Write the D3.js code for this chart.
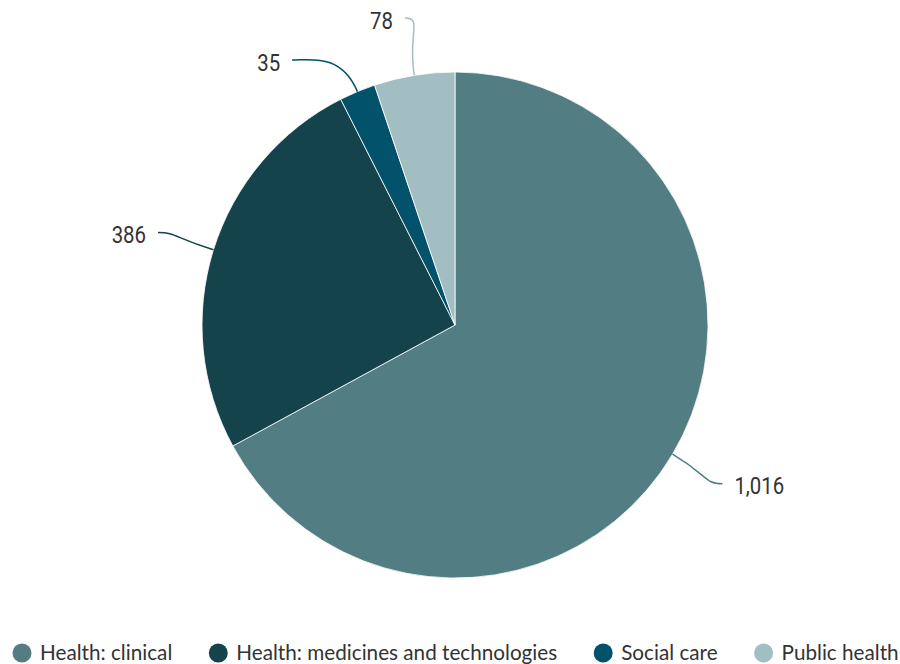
<!DOCTYPE html>
<html>
<head>
<meta charset="utf-8">
<script src="https://cdn.jsdelivr.net/npm/d3@7"></script>
<style>
  html, body { margin: 0; padding: 0; background: #ffffff; }
  .value-label { font-family: Roboto, "Liberation Sans", sans-serif; font-size: 24px; font-weight: 400; fill: #333333; }
  .legend-label { font-family: Lato, "Open Sans", sans-serif; font-size: 20.7px; fill: #333333; }
</style>
</head>
<body>
<svg id="chart" width="900" height="664"></svg>
<script>
// Funding by area
const categories = ["Health: clinical", "Health: medicines and technologies", "Social care", "Public health"];
const values = [1016, 386, 35, 78];
const colors = ["#527d82", "#15434b", "#02526b", "#a3bec3"];

const width = 900, height = 664;
const cx = 455, cy = 325, radius = 253;
const labelRadius = radius + 58;

const svg = d3.select("#chart");
const g = svg.append("g").attr("transform", `translate(${cx},${cy})`);

const pie = d3.pie().sort(null).value(d => d.value);
const arcs = pie(categories.map((c, i) => ({ name: c, value: values[i], color: colors[i] })));
const arc = d3.arc().innerRadius(0).outerRadius(radius);

g.selectAll("path.slice")
  .data(arcs)
  .join("path")
  .attr("class", "slice")
  .attr("d", arc)
  .attr("fill", d => d.data.color)
  .attr("stroke", "#ffffff")
  .attr("stroke-width", 0.8);

// polar helper: angle measured clockwise from 12 o'clock
const polar = (a, r) => [r * Math.sin(a), -r * Math.cos(a)];

// initial label anchors on an outer circle
const labels = arcs.map(d => {
  const mid = (d.startAngle + d.endAngle) / 2;
  const [x, y] = polar(mid, labelRadius);
  return { d, mid, x, y, right: x >= 0 };
});

// push overlapping labels apart on each side, then put them back on the circle
const minGap = 42;
["left", "right"].forEach(side => {
  const group = labels.filter(l => (side === "right") === l.right).sort((a, b) => a.y - b.y);
  for (let i = 1; i < group.length; i++) {
    if (group[i].y - group[i - 1].y < minGap) group[i].y = group[i - 1].y + minGap;
  }
  group.forEach(l => {
    const dx = Math.sqrt(Math.max(0, labelRadius * labelRadius - l.y * l.y));
    l.x = l.right ? dx : -dx;
  });
});

// smooth connectors from slice edge to label, condensed value labels
labels.forEach(l => {
  const [ex, ey] = polar(l.mid, radius);
  const [kx, ky] = polar(l.mid, radius + 42);
  const dir = l.right ? 1 : -1;
  const p = d3.path();
  p.moveTo(ex, ey);
  p.bezierCurveTo(kx, ky, l.x - dir * 18, l.y, l.x, l.y);
  g.append("path")
    .attr("d", p.toString())
    .attr("fill", "none")
    .attr("stroke", l.d.data.color)
    .attr("stroke-width", 1.5);

  g.append("text")
    .attr("class", "value-label")
    .attr("transform", `translate(${l.x + dir * 12},${l.y + 2}) scale(0.85,1)`)
    .attr("dy", "0.36em")
    .attr("text-anchor", l.right ? "start" : "end")
    .text(d3.format(",")(l.d.data.value));
});

// legend along the bottom
const legend = svg.append("g").attr("transform", "translate(0,653)");
let lx = 22;
categories.forEach((c, i) => {
  const item = legend.append("g").attr("transform", `translate(${lx},0)`);
  item.append("circle").attr("r", 9.5).attr("fill", colors[i]);
  const t = item.append("text")
    .attr("class", "legend-label")
    .attr("x", 18)
    .attr("dy", "0.35em")
    .text(c);
  lx += 18 + t.node().getComputedTextLength() + 46;
});
</script>
</body>
</html>
